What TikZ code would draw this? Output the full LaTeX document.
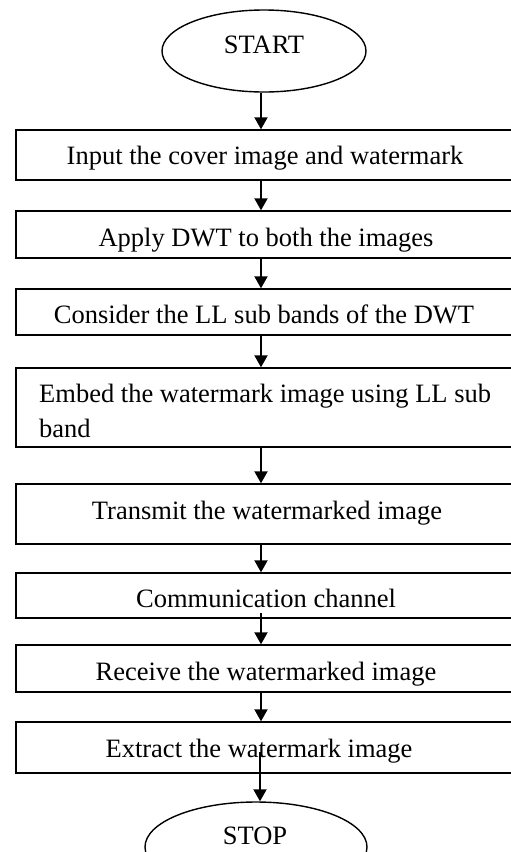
\documentclass[tikz,border=0pt]{standalone}
\usepackage{fontspec}
\setmainfont{Liberation Serif}
\usetikzlibrary{arrows.meta,shapes.geometric}
\begin{document}
\begin{tikzpicture}[x=1pt,y=-1pt,
  box/.style={draw,line width=1.4pt,rectangle,inner sep=0pt},
  term/.style={draw,line width=1.4pt,ellipse,inner sep=0pt},
  txt/.style={inner sep=0pt,anchor=base,font=\fontsize{26.5}{33}\selectfont},
  flow/.style={line width=2pt,-{Triangle[width=13pt,length=12pt]}}]
\useasboundingbox (0,0) rectangle (511,852);
\clip (0,0) rectangle (511,852);
\fill[white] (0,0) rectangle (511,852);
% terminals
\node[term,minimum width=204pt,minimum height=82pt] (start) at (264,51) {};
\node[txt] (starttxt) at (264,53) {START};
\node[term,minimum width=222pt,minimum height=90pt] (stop) at (256,847) {};
\node[txt] (stoptxt) at (255,844) {STOP};
% boxes (extend past right edge)
\node[box,minimum width=506pt,minimum height=50pt] (b1) at (269,155) {};
\node[txt] (t1) at (265,164) {Input the cover image and watermark};
\node[box,minimum width=506pt,minimum height=47pt] (b2) at (269,234.5) {};
\node[txt] (t2) at (266,246) {Apply DWT to both the images};
\node[box,minimum width=506pt,minimum height=46pt] (b3) at (269,312) {};
\node[txt] (t3) at (264,323) {Consider the LL sub bands of the DWT};
\node[box,minimum width=506pt,minimum height=79pt] (b4) at (269,407.5) {};
\node[txt,anchor=base west] (t4a) at (39,402) {Embed the watermark image using LL sub};
\node[txt,anchor=base west] (t4b) at (39,437) {band};
\node[box,minimum width=506pt,minimum height=60pt] (b5) at (269,514) {};
\node[txt] (t5) at (267,519) {Transmit the watermarked image};
\node[box,minimum width=506pt,minimum height=45pt] (b6) at (269,595.5) {};
\node[txt] (t6) at (266,607) {Communication channel};
\node[box,minimum width=506pt,minimum height=47pt] (b7) at (269,668.5) {};
\node[txt] (t7) at (266,680) {Receive the watermarked image};
\node[box,minimum width=506pt,minimum height=51pt] (b8) at (269,747.5) {};
\node[txt] (t8) at (259,757) {Extract the watermark image};
% arrow anchors
\coordinate (c6) at (261,613);
\coordinate (c8) at (260,752);
\draw[flow] (start.south -| 261,0) -- (b1.north -| 261,0);
\draw[flow] (b1.south -| 261,0) -- (b2.north -| 261,0);
\draw[flow] (b2.south -| 261,0) -- (b3.north -| 261,0);
\draw[flow] (b3.south -| 261,0) -- (b4.north -| 261,0);
\draw[flow] (b4.south -| 261,0) -- (b5.north -| 261,0);
\draw[flow] (b5.south -| 261,0) -- (b6.north -| 261,0);
\draw[flow] (c6) -- (b7.north -| 261,0);
\draw[flow] (b7.south -| 261,0) -- (b8.north -| 261,0);
\draw[flow] (c8) -- (stop.north -| 260,0);
\end{tikzpicture}
\end{document}
